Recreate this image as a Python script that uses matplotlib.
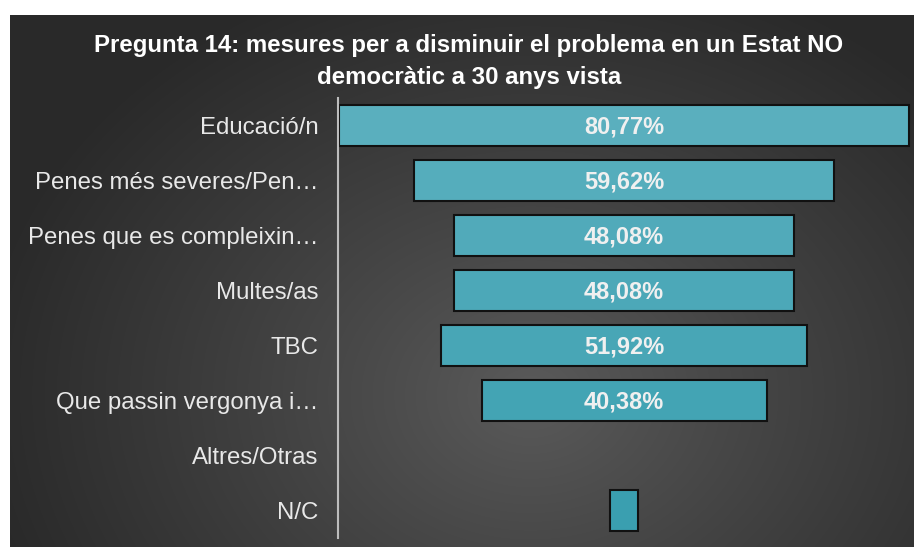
import numpy as np
import matplotlib.pyplot as plt

# dades
categories = ['Educació/n', 'Penes més severes/Pen…', 'Penes que es compleixin…',
              'Multes/as', 'TBC', 'Que passin vergonya i…', 'Altres/Otras', 'N/C']
valors = [80.77, 59.62, 48.08, 48.08, 51.92, 40.38, 0.0, 3.85]
etiquetes = ['80,77%', '59,62%', '48,08%', '48,08%', '51,92%', '40,38%', '', '']
titol = 'Pregunta 14: mesures per a disminuir el problema en un Estat NO\ndemocràtic a 30 anys vista'

plt.rcParams['font.family'] = ['Liberation Sans', 'DejaVu Sans']

W, H = 914, 547
fig = plt.figure(figsize=(W / 100, H / 100), dpi=100)
fig.patch.set_facecolor('white')

# fons fosc amb degradat radial
bg = fig.add_axes([10 / W, 0, (W - 10) / W, (H - 15) / H])
yy, xx = np.mgrid[0:532, 0:904]
d = np.sqrt((xx - 520) ** 2 + ((yy - 380) * 1.25) ** 2)
t = np.clip(d / 560, 0, 1) ** 0.9
c0 = np.array([0x5b, 0x5b, 0x5b]) / 255
c1 = np.array([0x29, 0x29, 0x29]) / 255
img = c0[None, None, :] * (1 - t[..., None]) + c1[None, None, :] * t[..., None]
bg.imshow(img, aspect='auto', interpolation='bilinear')
bg.axis('off')

# titol en dues linies (linia base a 52 i 84 px)
for linia, yb in zip(titol.split('\n'), [52, 84]):
    fig.text(469 / W, 1 - yb / H, linia, ha='center', va='baseline', color='white',
             fontsize=17.3, fontweight='bold')

# eix de barres
ax = fig.add_axes([338 / W, 9 / H, 576 / W, 440 / H])
ax.patch.set_alpha(0)
y = np.arange(len(categories))
v = np.array(valors)
colors = [plt.matplotlib.colors.to_hex(c) for c in
          np.linspace([0x5a / 255, 0xaf / 255, 0xbe / 255], [0x3a / 255, 0x9f / 255, 0xb0 / 255], len(v))]
edges = ['#111111' if x > 0 else 'none' for x in v]
ax.barh(y, v, left=-v / 2, height=0.75, color=colors, edgecolor=edges, linewidth=1.5)
for i, e in enumerate(etiquetes):
    if e:
        ax.text(0, y[i] + 0.02, e, ha='center', va='center', color='#f0f0f0',
                fontsize=17, fontweight='bold')

ax.set_xlim(-80.77 / 2 - 0.15, 576 / 7.07 - 80.77 / 2)
ax.set_ylim(len(categories) - 0.5, -0.5)
ax.set_yticks(y)
ax.set_yticklabels(categories, color='#e8e8e8', fontsize=17.3)
ax.tick_params(axis='y', length=0, pad=14)
ax.set_xticks([])
for s in ['top', 'right', 'bottom']:
    ax.spines[s].set_visible(False)
ax.spines['left'].set_color('#bdbdbd')
ax.spines['left'].set_linewidth(1.5)

fig.savefig('out.png', dpi=100, facecolor=fig.get_facecolor())
